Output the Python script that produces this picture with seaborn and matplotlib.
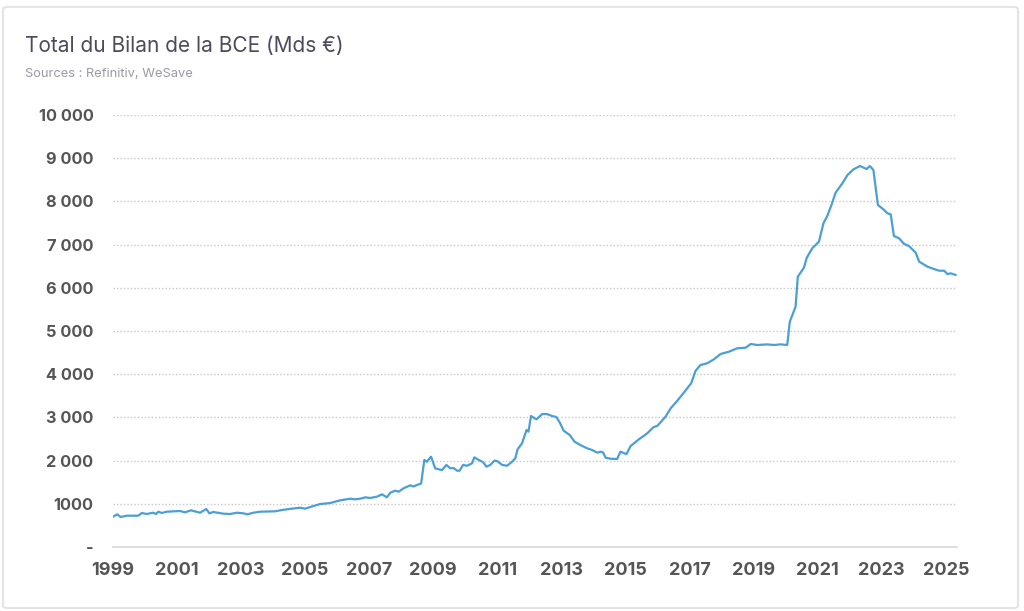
import matplotlib.pyplot as plt
import matplotlib.patches as mpatches
from matplotlib.ticker import FuncFormatter
import numpy as np
import pandas as pd
import seaborn as sns

# dates (decimal years) and ECB balance sheet total (Mds €)
annees = [1999.00, 1999.13, 1999.24, 1999.43, 1999.79, 1999.90, 2000.05, 2000.26, 2000.34,
          2000.42, 2000.52, 2000.68, 2001.09, 2001.25, 2001.43, 2001.72, 2001.91, 2002.01,
          2002.13, 2002.45, 2002.66, 2002.87, 2003.07, 2003.20, 2003.38, 2003.59, 2004.06,
          2004.27, 2004.58, 2004.84, 2005.00, 2005.26, 2005.47, 2005.78, 2006.09, 2006.41,
          2006.56, 2006.72, 2006.88, 2007.03, 2007.24, 2007.40, 2007.55, 2007.66, 2007.81,
          2007.92, 2008.07, 2008.28, 2008.38, 2008.49, 2008.62, 2008.72, 2008.80, 2008.93,
          2009.06, 2009.27, 2009.41, 2009.53, 2009.63, 2009.74, 2009.82, 2009.93, 2010.05,
          2010.21, 2010.28, 2010.42, 2010.55, 2010.66, 2010.78, 2010.91, 2010.99, 2011.15,
          2011.30, 2011.46, 2011.56, 2011.63, 2011.77, 2011.91, 2011.97, 2012.05, 2012.22,
          2012.40, 2012.55, 2012.71, 2012.84, 2012.95, 2013.07, 2013.26, 2013.41, 2013.59,
          2013.80, 2013.96, 2014.12, 2014.22, 2014.30, 2014.38, 2014.53, 2014.74, 2014.84,
          2015.03, 2015.16, 2015.42, 2015.68, 2015.87, 2016.00, 2016.25, 2016.41, 2016.62,
          2016.82, 2017.05, 2017.19, 2017.34, 2017.55, 2017.76, 2017.97, 2018.23, 2018.49,
          2018.75, 2018.91, 2019.12, 2019.43, 2019.63, 2019.84, 2020.05, 2020.13, 2020.31,
          2020.38, 2020.57, 2020.66, 2020.83, 2021.04, 2021.18, 2021.30, 2021.43, 2021.56,
          2021.77, 2021.93, 2022.12, 2022.32, 2022.53, 2022.63, 2022.74, 2022.88, 2023.05,
          2023.18, 2023.28, 2023.38, 2023.54, 2023.70, 2023.85, 2024.06, 2024.17, 2024.43,
          2024.63, 2024.79, 2024.95, 2025.05, 2025.16, 2025.31]
bilan = [701, 756, 694, 725, 725, 787, 764, 794, 764,
         817, 787, 817, 833, 802, 849, 794, 880, 779,
         810, 771, 764, 794, 779, 756, 794, 817, 826,
         856, 887, 910, 887, 949, 995, 1018, 1080, 1118,
         1103, 1118, 1150, 1134, 1165, 1219, 1150, 1257, 1304,
         1280, 1358, 1428, 1400, 1435, 1470, 2014, 1975, 2090,
         1820, 1780, 1900, 1820, 1830, 1766, 1766, 1900, 1880,
         1937, 2076, 2014, 1968, 1860, 1900, 2000, 1990, 1900,
         1880, 1975, 2053, 2260, 2400, 2708, 2670, 3032, 2955,
         3078, 3078, 3032, 3010, 2878, 2692, 2592, 2438, 2361,
         2285, 2245, 2183, 2206, 2190, 2067, 2044, 2037, 2206,
         2150, 2338, 2493, 2632, 2771, 2808, 3016, 3210, 3387,
         3572, 3789, 4081, 4213, 4252, 4345, 4468, 4521, 4600,
         4613, 4699, 4676, 4690, 4676, 4690, 4676, 5215, 5563,
         6257, 6465, 6697, 6914, 7068, 7493, 7662, 7917, 8202,
         8418, 8611, 8743, 8819, 8750, 8819, 8727, 7917, 7817,
         7725, 7700, 7199, 7146, 7014, 6968, 6813, 6604, 6489,
         6435, 6396, 6396, 6319, 6334, 6296]

x_ticks = list(range(1999, 2026, 2))
y_ticks = list(range(0, 10001, 1000))

df = pd.DataFrame({"annee": annees, "bilan": bilan})

sns.set_style("white")
plt.rcParams["font.family"] = ["Inter", "DejaVu Sans"]

fig = plt.figure(figsize=(10.24, 6.11), dpi=100)
fig.patch.set_facecolor("white")
fig.patches.append(mpatches.FancyBboxPatch((3 / 1024, 3 / 611), 1015 / 1024, 601 / 611,
                                           boxstyle="round,pad=0,rounding_size=0.004",
                                           transform=fig.transFigure, fill=False,
                                           edgecolor="#e4e4e4", linewidth=1.5))

ax = fig.add_axes([113 / 1024, 1 - 547 / 611, 844 / 1024, 432 / 611])
sns.lineplot(data=df, x="annee", y="bilan", ax=ax, color="#4b9fd5", linewidth=1.6)

ax.set_xlim(1999, 2025.35)
ax.set_ylim(0, 10000)
ax.set_xticks(x_ticks)
ax.set_yticks(y_ticks)


def fmt_y(v, pos):
    v = int(round(v))
    if v == 0:
        return "-"
    if v < 2000:
        return str(v)
    return f"{v:,}".replace(",", " ")


ax.yaxis.set_major_formatter(FuncFormatter(fmt_y))
ax.xaxis.set_major_formatter(FuncFormatter(lambda v, p: str(int(v))))

ax.grid(axis="y", linestyle=(0, (1, 1.5)), color="#c8c8c8", linewidth=1)
ax.grid(axis="x", visible=False)
for s in ["top", "right", "left"]:
    ax.spines[s].set_visible(False)
ax.spines["bottom"].set_color("#d9d9d9")
ax.spines["bottom"].set_linewidth(1.2)

ax.tick_params(axis="y", length=0, pad=14, labelsize=11.8, labelcolor="#555555")
ax.tick_params(axis="x", length=6, width=1, color="#d9d9d9", direction="out",
               pad=5, labelsize=13, labelcolor="#555555")
for lab in ax.get_xticklabels() + ax.get_yticklabels():
    lab.set_fontweight("bold")
ax.set_xlabel("")
ax.set_ylabel("")

fig.text(25 / 1024, 1 - 46 / 611, "Total du Bilan de la BCE (Mds €)", fontsize=15,
         color="#4b4b5c", ha="left", va="center")
fig.text(25 / 1024, 1 - 74 / 611, "Sources : Refinitiv, WeSave", fontsize=9.3,
         color="#9a9aa6", ha="left", va="center")

fig.savefig("out.png", dpi=100, facecolor="white")
